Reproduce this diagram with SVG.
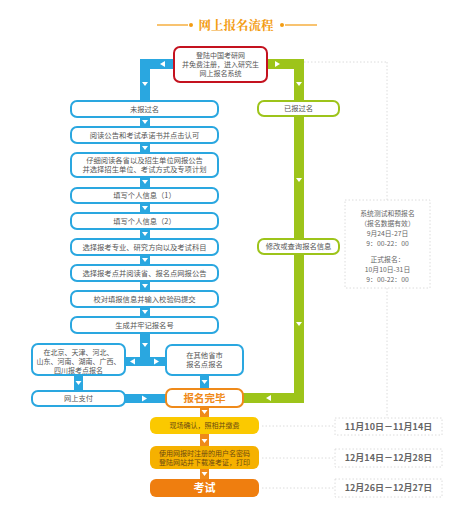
<svg xmlns="http://www.w3.org/2000/svg" width="450" height="518" viewBox="0 0 450 518">
<style>
text{font-family:"Noto Sans CJK SC","Liberation Sans",sans-serif;text-anchor:middle;fill:#555;}
.t{font-size:7.3px;}
.bb{fill:#fff;stroke:#2aa7e0;stroke-width:2;}
.gb{fill:#fff;stroke:#9dc41a;stroke-width:2;}
.blue{fill:#2aa7e0;}
.green{fill:#9dc41a;}
.orng{fill:#ef8a1a;}
.arr{fill:#fff;}
.dot{fill:none;stroke:#dcdcdc;stroke-width:1;stroke-dasharray:1.5 2;}
.date{font-size:9px;font-weight:bold;fill:#666;}
.info{font-size:6.8px;fill:#666;}
</style>
<rect width="450" height="518" fill="#fff"/>
<g id="title">
<line x1="157" y1="25" x2="188" y2="25" stroke="#f39c12" stroke-width="1.2"/>
<circle cx="191" cy="25" r="2" fill="#f39c12"/>
<line x1="285" y1="25" x2="317" y2="25" stroke="#f39c12" stroke-width="1.2"/>
<circle cx="282" cy="25" r="2" fill="#f39c12"/>
<text x="236" y="29.5" style="font-size:12.5px;font-weight:bold;fill:#f39c12;font-family:'Noto Serif CJK SC','Noto Sans CJK SC',serif">网上报名流程</text>
</g>
<g id="connectors">
<rect class="blue" x="140" y="59" width="34" height="10"/>
<rect class="blue" x="140" y="59" width="10" height="307"/>
<rect class="blue" x="125" y="357" width="41" height="9"/>
<rect class="blue" x="74" y="375" width="9" height="17"/>
<rect class="blue" x="125" y="394" width="41" height="9"/>
<rect class="blue" x="200" y="375" width="9" height="14"/>
<rect class="green" x="267" y="59" width="37" height="10"/>
<rect class="green" x="294" y="59" width="10" height="344"/>
<rect class="green" x="243" y="393" width="61" height="10"/>
<rect class="orng" x="200" y="407" width="9" height="72"/>
<g class="arr">
<polygon points="160,64 165,61 165,67"/>
<polygon points="142,82 148,82 145,86"/>
<polygon points="142,120 148,120 145,124"/>
<polygon points="142,146 148,146 145,150"/>
<polygon points="142,180 148,180 145,184"/>
<polygon points="142,206 148,206 145,210"/>
<polygon points="142,232 148,232 145,236"/>
<polygon points="142,258 148,258 145,262"/>
<polygon points="142,284 148,284 145,288"/>
<polygon points="142,310 148,310 145,314"/>
<polygon points="142,343 148,343 145,347"/>
<polygon points="130,361.5 135,358.5 135,364.5"/>
<polygon points="159,361.5 154,358.5 154,364.5"/>
<polygon points="75.5,381 81.5,381 78.5,385"/>
<polygon points="201.5,380 207.5,380 204.5,384"/>
<polygon points="147,398.5 142,395.5 142,401.5"/>
<polygon points="280,64 275,61 275,67"/>
<polygon points="296,82 302,82 299,86"/>
<polygon points="296,178 302,178 299,182"/>
<polygon points="296,322 302,322 299,326"/>
<polygon points="266,398 271,395 271,401"/>
<polygon points="201.5,410 207.5,410 204.5,414"/>
<polygon points="201.5,439 207.5,439 204.5,443"/>
<polygon points="201.5,472 207.5,472 204.5,476"/>
</g>
<line class="dot" x1="304" y1="62" x2="387" y2="62"/>
<line class="dot" x1="387" y1="62" x2="387" y2="200"/>
<line class="dot" x1="387" y1="288" x2="387" y2="418"/>
<line class="dot" x1="262" y1="426" x2="335" y2="426"/>
<line class="dot" x1="262" y1="458" x2="335" y2="458"/>
<line class="dot" x1="262" y1="488" x2="335" y2="488"/>
</g>
<g id="start">
<rect x="174" y="47" width="93" height="35" rx="6" fill="#fff" stroke="#c4121f" stroke-width="2"/>
<text class="t" x="220.5" y="57.5" style="font-size:7px">登陆中国考研网</text>
<text class="t" x="220.5" y="66.5" style="font-size:7px">并免费注册，进入研究生</text>
<text class="t" x="220.5" y="75.5" style="font-size:7px">网上报名系统</text>
</g>
<g id="n1"><rect class="bb" x="71" y="101" width="147" height="16" rx="6"/><text class="t" x="144.5" y="111.5">未报过名</text></g>
<g id="n2"><rect class="bb" x="71" y="127" width="147" height="16" rx="6"/><text class="t" x="144.5" y="137.5">阅读公告和考试承诺书并点击认可</text></g>
<g id="n3"><rect class="bb" x="71" y="153" width="147" height="24" rx="6"/><text class="t" x="144.5" y="163">仔细阅读各省以及招生单位网报公告</text><text class="t" x="144.5" y="172">并选择招生单位、考试方式及专项计划</text></g>
<g id="n4"><rect class="bb" x="71" y="188" width="147" height="15" rx="6"/><text class="t" x="144.5" y="198">填写个人信息（1）</text></g>
<g id="n5"><rect class="bb" x="71" y="213" width="147" height="16" rx="6"/><text class="t" x="144.5" y="223.5">填写个人信息（2）</text></g>
<g id="n6"><rect class="bb" x="71" y="239" width="147" height="16" rx="6"/><text class="t" x="144.5" y="249.5">选择报考专业、研究方向以及考试科目</text></g>
<g id="n7"><rect class="bb" x="71" y="265" width="147" height="16" rx="6"/><text class="t" x="144.5" y="275.5">选择报考点并阅读省、报名点网报公告</text></g>
<g id="n8"><rect class="bb" x="71" y="291" width="147" height="16" rx="6"/><text class="t" x="144.5" y="301.5">校对填报信息并输入校验码提交</text></g>
<g id="n9"><rect class="bb" x="71" y="317" width="147" height="16" rx="6"/><text class="t" x="144.5" y="327.5">生成并牢记报名号</text></g>
<g id="n10"><rect class="bb" x="32" y="344" width="93" height="31" rx="6"/><text class="t" x="78.5" y="355" style="font-size:7px">在北京、天津、河北、</text><text class="t" x="78.5" y="364" style="font-size:7px">山东、河南、湖南、广西、</text><text class="t" x="78.5" y="373" style="font-size:7px">四川报考点报名</text></g>
<g id="n11"><rect class="bb" x="166" y="345" width="77" height="30" rx="6"/><text class="t" x="204.5" y="357.5">在其他省市</text><text class="t" x="204.5" y="367">报名点报名</text></g>
<g id="n12"><rect class="bb" x="32" y="391" width="93" height="15" rx="6"/><text class="t" x="78.5" y="401">网上支付</text></g>
<g id="n13"><rect x="166" y="389" width="77" height="18" rx="6" fill="#fff" stroke="#ef8a1a" stroke-width="2"/><text x="204.5" y="402.3" style="font-size:10.5px;font-weight:bold;fill:#ef8a1a">报名完毕</text></g>
<g id="n14"><rect x="150" y="417" width="109" height="17" rx="6" fill="#fbc900"/><text class="t" x="204.5" y="428" style="font-size:7px;fill:#6b4a10">现场确认，照相并缴费</text></g>
<g id="n15"><rect x="150" y="446" width="109" height="23" rx="6" fill="#f6b100"/><text class="t" x="204.5" y="455.5" style="font-size:7px;fill:#6b4a10">使用网报时注册的用户名密码</text><text class="t" x="204.5" y="464.5" style="font-size:7px;fill:#6b4a10">登陆网站并下载准考证，打印</text></g>
<g id="n16"><rect x="150" y="479" width="109" height="18" rx="6" fill="#ef7e0f"/><text x="204.5" y="492.3" style="font-size:11px;font-weight:bold;fill:#fff">考试</text></g>
<g id="g1"><rect class="gb" x="258" y="101" width="81" height="15" rx="6"/><text class="t" x="298.5" y="111">已报过名</text></g>
<g id="g2"><rect class="gb" x="258" y="239" width="81" height="15" rx="6"/><text class="t" x="298.5" y="249">修改或查询报名信息</text></g>
<g id="info">
<rect class="dot" x="345" y="200" width="85" height="88"/>
<text class="info" x="387.5" y="216">系统测试和预报名</text>
<text class="info" x="387.5" y="226">（报名数据有效）</text>
<text class="info" x="387.5" y="236">9月24日-27日</text>
<text class="info" x="387.5" y="246">9：00-22：00</text>
<text class="info" x="387.5" y="262">正式报名：</text>
<text class="info" x="387.5" y="272">10月10日-31日</text>
<text class="info" x="387.5" y="282">9：00-22：00</text>
</g>
<g id="d1"><rect class="dot" x="335" y="418" width="107" height="17"/><text class="date" x="388.5" y="429.5">11月10日－11月14日</text></g>
<g id="d2"><rect class="dot" x="335" y="449" width="107" height="18"/><text class="date" x="388.5" y="461">12月14日－12月28日</text></g>
<g id="d3"><rect class="dot" x="335" y="479" width="107" height="18"/><text class="date" x="388.5" y="491">12月26日－12月27日</text></g>
</svg>
